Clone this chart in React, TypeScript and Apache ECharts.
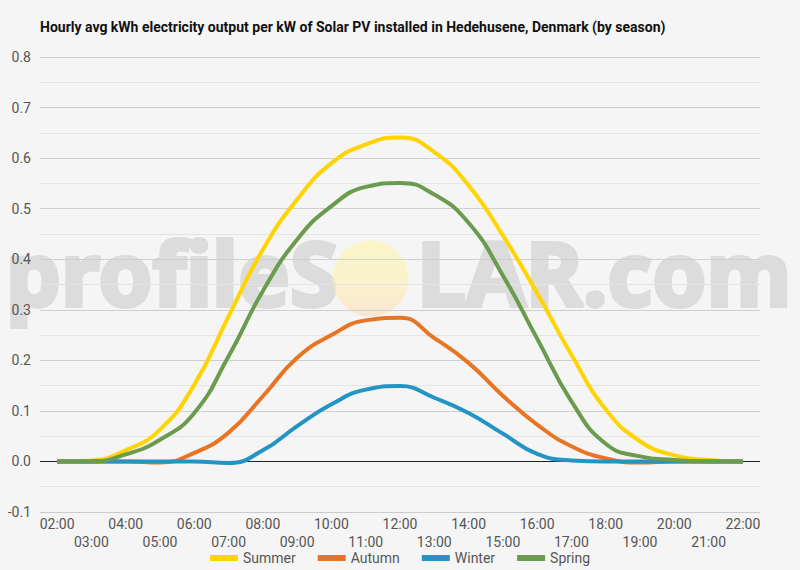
import React, { useEffect, useRef } from "react";
import * as echarts from "echarts";

const hours = [
  "02:00", "03:00", "04:00", "05:00", "06:00", "07:00", "08:00", "09:00", "10:00", "11:00", "12:00",
  "13:00", "14:00", "15:00", "16:00", "17:00", "18:00", "19:00", "20:00", "21:00", "22:00",
];
const summer = [0, 0.002, 0.022, 0.063, 0.152, 0.287, 0.419, 0.518, 0.59, 0.627, 0.641, 0.612, 0.546, 0.447, 0.333, 0.211, 0.103, 0.04, 0.012, 0.003, 0];
const autumn = [0, 0, 0, -0.002, 0.017, 0.057, 0.129, 0.205, 0.25, 0.279, 0.284, 0.244, 0.195, 0.13, 0.073, 0.03, 0.006, -0.002, 0, 0, 0];
const winter = [0, 0, 0, 0, 0, -0.003, 0.022, 0.07, 0.113, 0.142, 0.149, 0.126, 0.096, 0.055, 0.015, 0.002, 0, 0, 0, 0, 0];
const spring = [0, 0, 0.014, 0.043, 0.096, 0.208, 0.337, 0.439, 0.505, 0.543, 0.551, 0.528, 0.472, 0.368, 0.243, 0.119, 0.035, 0.01, 0.003, 0, 0];

const seriesNames = ["Summer", "Autumn", "Winter", "Spring"];
const seriesColors = ["#ffd400", "#e87524", "#2494c4", "#6b9b4f"];
const seriesData = [summer, autumn, winter, spring];

const titleText = "Hourly avg kWh electricity output per kW of Solar PV installed in Hedehusene, Denmark (by season)";

export default function App() {
  const ref = useRef<HTMLDivElement>(null);
  useEffect(() => {
    if (!ref.current) return;
    const chart = echarts.init(ref.current, null, { renderer: "svg" });
    const font = "Roboto";
    const wmStyle = {
      fontFamily: "Noto Sans",
      fontWeight: "bold",
      fontSize: 87,
      fill: "#dcdcdc",
      stroke: "#dcdcdc",
      lineWidth: 4,
    };
    chart.setOption({
      animation: false,
      backgroundColor: "#f5f5f5",
      title: {
        text: titleText,
        left: 40,
        top: 20,
        padding: 0,
        textStyle: { fontFamily: font, fontSize: 14, fontWeight: "bold", color: "#111" },
      },
      grid: { left: 40, right: 40, top: 57, bottom: 58 },
      legend: {
        bottom: 0,
        left: "center",
        icon: "rect",
        itemWidth: 28,
        itemHeight: 6,
        itemGap: 22,
        textStyle: { fontFamily: font, fontSize: 14, color: "#555" },
        data: seriesNames,
      },
      xAxis: {
        type: "category",
        data: hours,
        boundaryGap: true,
        axisLine: { onZero: false, lineStyle: { color: "#ccc" } },
        axisTick: { show: false },
        axisLabel: {
          interval: 0,
          margin: 3,
          fontFamily: font,
          fontSize: 14,
          color: "#555",
          lineHeight: 18,
          formatter: (v: string, i: number) => (i % 2 ? "\n" + v : v),
        },
      },
      yAxis: {
        type: "value",
        min: -0.1,
        max: 0.8,
        interval: 0.1,
        axisLine: { show: false },
        axisTick: { show: false },
        axisLabel: {
          margin: 9,
          fontFamily: font,
          fontSize: 14,
          color: "#555",
          formatter: (v: number) => v.toFixed(1),
        },
        splitLine: { lineStyle: { color: "#cfcfcf" } },
        minorTick: { show: false, splitNumber: 2 },
        minorSplitLine: { show: true, lineStyle: { color: "#e4e4e4" } },
      },
      graphic: [
        {
          type: "text",
          z: -1,
          left: 4,
          top: 226,
          silent: true,
          style: { text: "profileS", ...wmStyle },
        },
        {
          type: "circle",
          z: -1,
          silent: true,
          shape: { cx: 370.5, cy: 278.5, r: 38 },
          style: {
            fill: new echarts.graphic.LinearGradient(0, 0, 0, 1, [
              { offset: 0, color: "rgba(255,245,170,0.6)" },
              { offset: 0.6, color: "rgba(255,240,170,0.55)" },
              { offset: 1, color: "rgba(255,215,175,0.5)" },
            ]),
          },
        },
        {
          type: "text",
          z: -1,
          left: 415,
          top: 226,
          silent: true,
          style: { text: "LAR.com", ...wmStyle },
        },
      ],
      series: seriesData.map((d, i) => ({
        name: seriesNames[i],
        type: "line",
        data: d,
        smooth: 0.5,
        symbol: "none",
        z: 3 + i,
        lineStyle: { width: 4, color: seriesColors[i] },
        itemStyle: { color: seriesColors[i] },
        markLine:
          i === 0
            ? {
                silent: true,
                symbol: "none",
                label: { show: false },
                lineStyle: { color: "#222", width: 1, type: "solid" },
                data: [{ yAxis: 0 }],
              }
            : undefined,
      })),
    });
    return () => chart.dispose();
  }, []);
  return <div ref={ref} style={{ position: "fixed", left: 0, top: 0, width: 800, height: 570 }} />;
}
